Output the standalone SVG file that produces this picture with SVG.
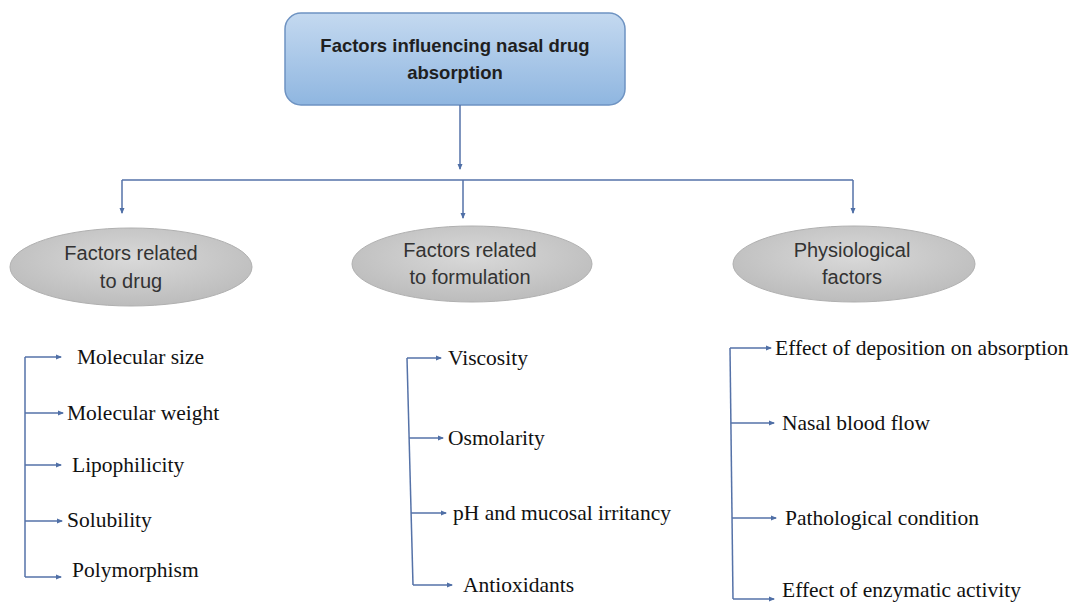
<svg xmlns="http://www.w3.org/2000/svg" width="1075" height="603" viewBox="0 0 1075 603">
<defs>
<linearGradient id="gBlue" x1="0" y1="0" x2="0" y2="1">
<stop offset="0" stop-color="#c4d9f0"/>
<stop offset="1" stop-color="#8fb6e0"/>
</linearGradient>
<radialGradient id="gGray" cx="0.5" cy="0.4" r="0.6">
<stop offset="0" stop-color="#d9d9d9"/>
<stop offset="1" stop-color="#bcbcbc"/>
</radialGradient>
<marker id="arr" viewBox="0 0 6 6" refX="5" refY="3" markerWidth="6" markerHeight="6" markerUnits="userSpaceOnUse" orient="auto">
<path d="M0,0.5 L6,3 L0,5.5 Z" fill="#4f6fa6"/>
</marker>
<style>
.ln{fill:none;stroke:#5572a8;stroke-width:1.5}
.ar{fill:none;stroke:#5572a8;stroke-width:1.5;marker-end:url(#arr)}
.ell{fill:url(#gGray);stroke:#b0b0b0;stroke-width:1}
.et{font-family:"Liberation Sans",Arial,sans-serif;font-size:20px;fill:#333;text-anchor:middle}
.tt{font-family:"Liberation Sans",Arial,sans-serif;font-size:18.5px;font-weight:bold;fill:#1f1f1f;text-anchor:middle}
.it{font-family:"Liberation Serif","Times New Roman",serif;font-size:21.5px;fill:#111}
</style>
</defs>
<rect width="1075" height="603" fill="#ffffff"/>

<g id="root">
<rect x="285" y="13" width="340" height="92" rx="16" ry="16" fill="url(#gBlue)" stroke="#6e93c2" stroke-width="1.5"/>
<text class="tt" x="455" y="52">Factors influencing nasal drug</text>
<text class="tt" x="455" y="79">absorption</text>
</g>

<g id="drug">
<ellipse class="ell" cx="131" cy="267" rx="121" ry="39"/>
<text class="et" x="131" y="260">Factors related</text>
<text class="et" x="131" y="288">to drug</text>
</g>
<g id="formulation">
<ellipse class="ell" cx="472" cy="264" rx="120" ry="38"/>
<text class="et" x="470" y="257">Factors related</text>
<text class="et" x="470" y="284">to formulation</text>
</g>
<g id="physiological">
<ellipse class="ell" cx="854" cy="264" rx="121" ry="38"/>
<text class="et" x="852" y="257">Physiological</text>
<text class="et" x="852" y="284">factors</text>
</g>

<g id="drug-items">
<text class="it" x="77" y="364">Molecular size</text>
<text class="it" x="67" y="420">Molecular weight</text>
<text class="it" x="72" y="472">Lipophilicity</text>
<text class="it" x="67" y="527">Solubility</text>
<text class="it" x="72" y="577">Polymorphism</text>
</g>
<g id="formulation-items">
<text class="it" x="448" y="365">Viscosity</text>
<text class="it" x="448" y="445">Osmolarity</text>
<text class="it" x="453" y="520">pH and mucosal irritancy</text>
<text class="it" x="463" y="592">Antioxidants</text>
</g>
<g id="physiological-items">
<text class="it" x="775" y="355">Effect of deposition on absorption</text>
<text class="it" x="782" y="430">Nasal blood flow</text>
<text class="it" x="785" y="525">Pathological condition</text>
<text class="it" x="782" y="597">Effect of enzymatic activity</text>
</g>

<g id="connectors">
<path class="ar" d="M460,105 V169"/>
<path class="ln" d="M122,180 H853"/>
<path class="ar" d="M122,180 V213"/>
<path class="ar" d="M463,180 V218"/>
<path class="ar" d="M853,180 V213"/>

<path class="ln" d="M25,357 V577"/>
<path class="ar" d="M25,357 H61"/>
<path class="ar" d="M25,413 H63"/>
<path class="ar" d="M25,465 H61"/>
<path class="ar" d="M25,521 H62"/>
<path class="ar" d="M25,577 H61"/>

<path class="ln" d="M407,358 L413,585"/>
<path class="ar" d="M407,358 H441"/>
<path class="ar" d="M409,438 H443"/>
<path class="ar" d="M411,513 H446"/>
<path class="ar" d="M413,585 H452"/>

<path class="ln" d="M730,348 L733,599"/>
<path class="ar" d="M730,348 H771"/>
<path class="ar" d="M731,423 H774"/>
<path class="ar" d="M732,518 H776"/>
<path class="ar" d="M733,599 H774"/>
</g>
</svg>
